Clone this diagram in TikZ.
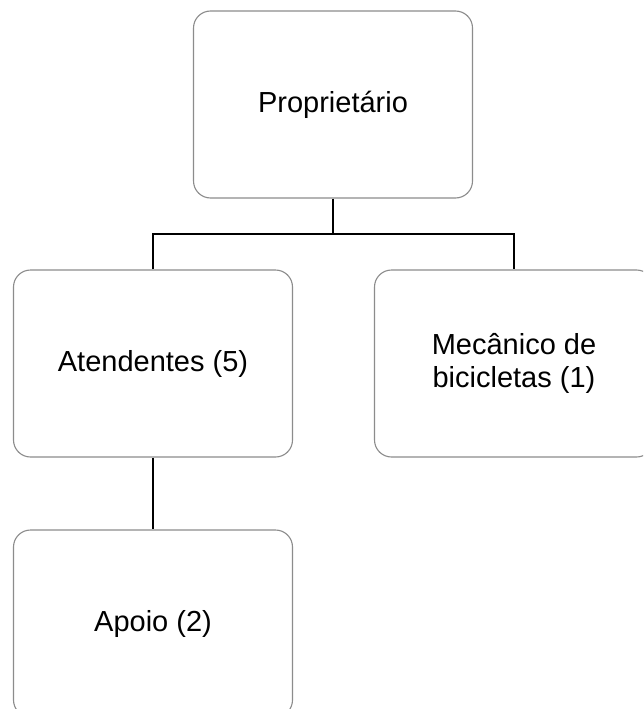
\documentclass[tikz,border=0pt]{standalone}
\usepackage{fontspec}
\setmainfont{Liberation Sans}
\begin{document}
\begin{tikzpicture}[x=1pt,y=-1pt,
  orgbox/.style={draw=black!45, line width=1.1pt, rounded corners=17pt, fill=white,
    minimum width=279pt, minimum height=187pt, inner sep=0pt, align=center,
    font=\fontsize{29}{33.5}\selectfont},
  link/.style={draw=black, line width=2.6pt}]
\useasboundingbox (0,0) rectangle (643,709);
\clip (0,0) rectangle (643,709);
\fill[white] (0,0) rectangle (643,709);
\node[orgbox] (prop) at (333,104.5) {Proprietário};
\node[orgbox] (aten) at (153,363.5) {Atendentes (5)};
\node[orgbox] (mec) at (514,363.5) {Mecânico de\\bicicletas (1)};
\node[orgbox] (apoio) at (153,623.5) {Apoio (2)};
\coordinate (bus) at (333,234);
\draw[link] (prop.south) -- (bus);
\draw[link] (aten.north) |- (bus) -| (mec.north);
\draw[link] (aten.south) -- (apoio.north);
\end{tikzpicture}
\end{document}
